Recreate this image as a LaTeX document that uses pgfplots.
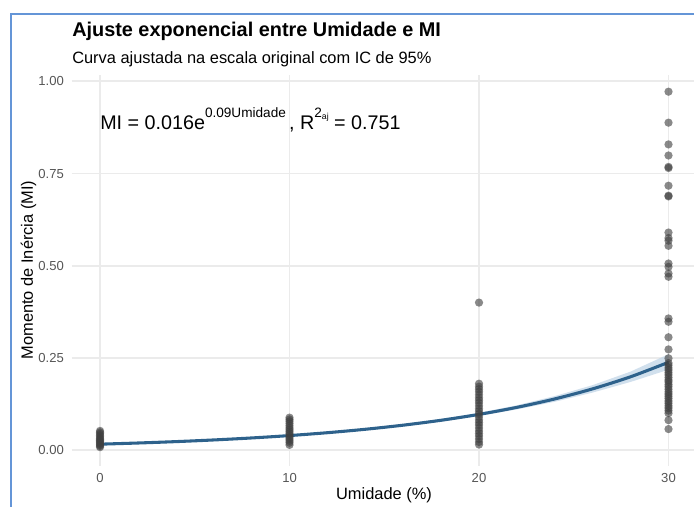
\documentclass[border=0pt]{standalone}
\usepackage{fontspec}
\setmainfont{Liberation Sans}
\usepackage{pgfplots}
\pgfplotsset{compat=1.18}
\usepgfplotslibrary{fillbetween}
\definecolor{gridc}{RGB}{235,235,235}
\definecolor{tickc}{RGB}{85,85,85}
\definecolor{ptc}{RGB}{64,64,64}
\definecolor{linec}{RGB}{46,98,140}
\definecolor{ribc}{RGB}{190,211,230}
\definecolor{framec}{RGB}{100,149,215}

\pgfplotstableread{
x y
0 0.008
0 0.011
0 0.014
0 0.017
0 0.020
0 0.023
0 0.026
0 0.029
0 0.032
0 0.036
0 0.040
0 0.044
0 0.048
0 0.052
10 0.014
10 0.020
10 0.025
10 0.030
10 0.035
10 0.040
10 0.045
10 0.050
10 0.055
10 0.060
10 0.066
10 0.072
10 0.078
10 0.083
10 0.088
20 0.015
20 0.022
20 0.030
20 0.038
20 0.045
20 0.052
20 0.060
20 0.068
20 0.075
20 0.082
20 0.090
20 0.098
20 0.105
20 0.112
20 0.120
20 0.128
20 0.135
20 0.142
20 0.150
20 0.158
20 0.165
20 0.172
20 0.180
20 0.400
30 0.057
30 0.081
30 0.100
30 0.107
30 0.114
30 0.120
30 0.127
30 0.133
30 0.140
30 0.146
30 0.152
30 0.158
30 0.165
30 0.172
30 0.178
30 0.185
30 0.190
30 0.197
30 0.204
30 0.210
30 0.217
30 0.223
30 0.230
30 0.236
30 0.249
30 0.273
30 0.306
30 0.348
30 0.357
30 0.470
30 0.479
30 0.497
30 0.506
30 0.554
30 0.568
30 0.575
30 0.590
30 0.688
30 0.690
30 0.717
30 0.765
30 0.768
30 0.799
30 0.829
30 0.888
30 0.972
}\pts

\pgfplotstableread{
x fit lo hi
0 0.01600 0.0145 0.0175
2 0.01916 0.0177 0.0206
4 0.02293 0.0214 0.0245
6 0.02746 0.0258 0.0291
8 0.03287 0.0311 0.0347
10 0.03935 0.0373 0.0414
12 0.04712 0.0447 0.0495
14 0.05641 0.0536 0.0592
16 0.06753 0.0644 0.0707
18 0.08085 0.0773 0.0844
20 0.09679 0.0925 0.1011
22 0.11588 0.1103 0.1215
24 0.13874 0.1310 0.1465
26 0.16610 0.1560 0.1762
28 0.19885 0.1848 0.2129
30 0.23808 0.2180 0.2600
}\fitt

\begin{document}
\begin{tikzpicture}[x=0.75pt,y=0.75pt]
\begin{axis}[
  at={(53.7pt,30.8pt)}, anchor=south west, scale only axis,
  width=469pt, height=293.4pt,
  xmin=-1.5, xmax=31.5, ymin=-0.043, ymax=1.018,
  axis line style={draw=none}, major tick length=0pt,
  tick style={draw=none},
  xtick={0,10,20,30}, xticklabels={0,10,20,30},
  ytick={0,0.25,0.5,0.75,1}, yticklabels={0.00,0.25,0.50,0.75,1.00},
  grid=major, major grid style={draw=gridc, line width=1.3pt},
  tick label style={font=\fontsize{9.8}{11}\selectfont, text=tickc, inner sep=0pt},
  yticklabel style={anchor=east, xshift=-5.6pt},
  xticklabel style={anchor=north, yshift=-5.2pt},
]
\addplot[only marks, mark=*, mark size=3.1pt, draw=none, mark options={draw opacity=0, fill=ptc, fill opacity=0.62}] table[x=x, y=y] {\pts};
\addplot[name path=hi, draw=none, forget plot] table[x=x, y=hi] {\fitt};
\addplot[name path=lo, draw=none, forget plot] table[x=x, y=lo] {\fitt};
\addplot[fill=ribc, fill opacity=0.7, draw=none] fill between[of=hi and lo];
\addplot[linec, line width=2.3pt, smooth] table[x=x, y=fit] {\fitt};
\end{axis}
\draw[framec, line width=1.5pt] (11,0) -- (11,493) -- (700,493);
\node[anchor=base west, inner sep=0pt, font=\bfseries\fontsize{14.9}{17}\selectfont] at (72,470) {Ajuste exponencial entre Umidade e MI};
\node[anchor=base west, inner sep=0pt, font=\fontsize{12.3}{14}\selectfont] at (72,443) {Curva ajustada na escala original com IC de 95\%};
\node[anchor=base, inner sep=0pt, font=\fontsize{12.3}{14}\selectfont] at (384,7) {Umidade (\%)};
\node[anchor=base, rotate=90, inner sep=0pt, font=\fontsize{12.3}{14}\selectfont] at (33,237) {Momento de Inércia (MI)};
\node[anchor=base west, inner sep=0pt, font=\fontsize{14.8}{17}\selectfont] at (100,377) {MI = 0.016e\raisebox{9pt}{\fontsize{10.2}{12}\selectfont 0.09Umidade}\,, R\raisebox{9pt}{\fontsize{10.2}{12}\selectfont 2\raisebox{-1.5pt}{\fontsize{6.5}{7}\selectfont aj}} = 0.751};
\pgfresetboundingbox
\path[use as bounding box] (0,0) rectangle (694,507);
\end{tikzpicture}
\end{document}
